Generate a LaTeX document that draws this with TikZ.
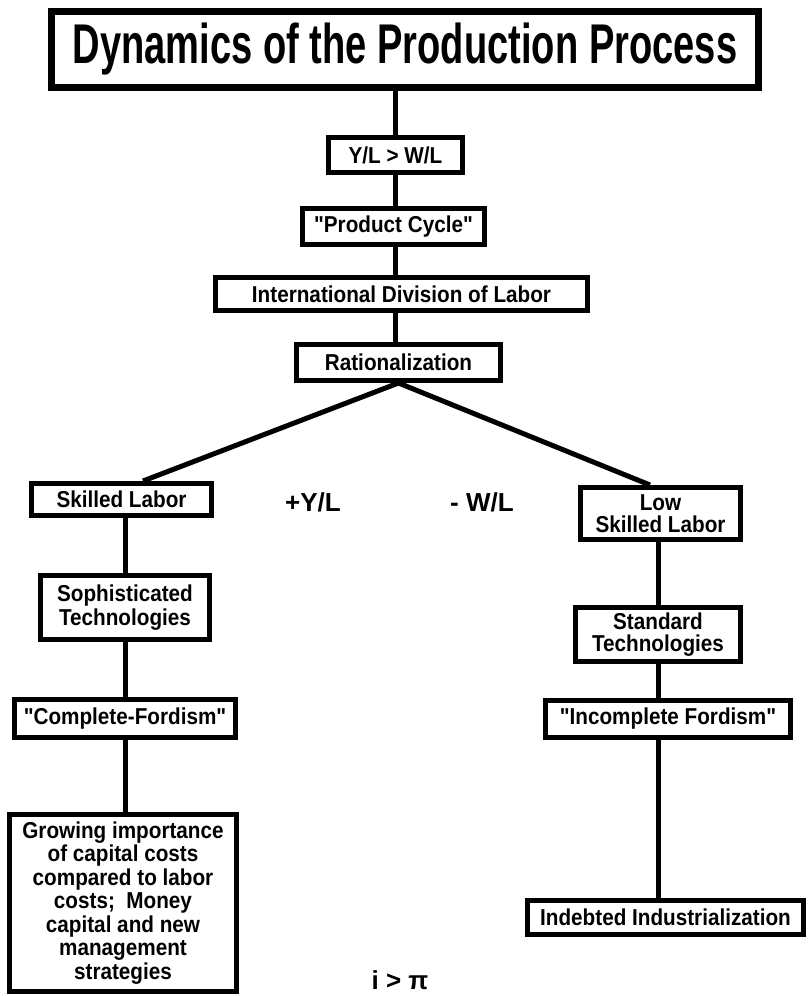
\documentclass[tikz,border=0pt]{standalone}
\usepackage{fontspec}
\setmainfont{Liberation Sans}[FakeStretch=0.9, Ligatures=TeXOff]
\newfontfamily\titlefont{Liberation Sans}[FakeStretch=0.68, Ligatures=TeXOff]
\newfontfamily\labelfont{Liberation Sans}[Ligatures=TeXOff]
\begin{document}
\begin{tikzpicture}[x=1pt,y=-1pt,
  box/.style={draw=black, line width=5pt, fill=white, inner sep=0pt,
    align=center, font=\fontsize{23}{22}\selectfont\bfseries},
  titlebox/.style={draw=black, line width=7pt, fill=white, inner sep=0pt,
    font=\titlefont\fontsize{56}{56}\selectfont\bfseries},
  lbl/.style={inner sep=0pt, font=\labelfont\fontsize{26}{26}\selectfont\bfseries},
  link/.style={draw=black, line width=5pt}]
\fill[white] (0,0) rectangle (808,996);
\useasboundingbox (0,0) rectangle (808,996);

% title
\node[titlebox, minimum width=707pt, minimum height=76pt] (title) at (405,49.5)
  {Dynamics of the Production Process};

% central chain
\node[box, minimum width=134pt, minimum height=35pt] (yl)  at (395.5,155)   {Y/L > W/L};
\node[box, minimum width=182pt, minimum height=36pt] (pc)  at (393.5,226.5) {"Product Cycle"};
\node[box, minimum width=372pt, minimum height=33pt] (idl) at (401.5,294)   {International Division of Labor};
\node[box, minimum width=204pt, minimum height=36pt] (rat) at (398.5,362.5) {Rationalization};

% left branch
\node[box, minimum width=180pt, minimum height=32pt]  (sk)   at (121.5,499.5) {Skilled Labor};
\node[box, minimum width=169pt, minimum height=64pt, font=\fontsize{23}{24}\selectfont\bfseries]
  (soph) at (125,607.5) {Sophisticated\\Technologies};
\node[box, minimum width=221pt, minimum height=38pt]  (cf)   at (125,718.5)   {"Complete-Fordism"};
\node[box, minimum width=227pt, minimum height=177pt, font=\fontsize{23}{23.5}\selectfont\bfseries]
  (grow) at (123,903)
  {Growing importance\\of capital costs\\compared to labor\\costs;\ \ Money\\capital and new\\management\\strategies};

% right branch
\node[box, minimum width=160pt, minimum height=52pt] (lsk) at (660.5,513.5) {Low\\Skilled Labor};
\node[box, minimum width=165pt, minimum height=54pt] (std) at (658,634.5)   {Standard\\Technologies};
\node[box, minimum width=245pt, minimum height=37pt] (inc) at (668,719)     {"Incomplete Fordism"};
\node[box, minimum width=276pt, minimum height=34pt] (ind) at (665.5,917.5) {Indebted Industrialization};

% free labels
\node[lbl] (plusyl)  at (313,502) {+Y/L};
\node[lbl] (minuswl) at (482,502) {- W/L};
\node[lbl] (ipi)     at (400,980) {i > π};

% connectors
\path[link] (yl.north) -- (yl.north |- title.south);
\path[link] (yl.south) -- (yl.south |- pc.north);
\path[link] (yl.south |- pc.south) -- (yl.south |- idl.north);
\path[link] (yl.south |- idl.south) -- (yl.south |- rat.north);
\path[link] (rat.south) -- ([xshift=21.5pt]sk.north);
\path[link] (rat.south) -- ([xshift=-10.5pt]lsk.north);
\path[link] (soph.north) -- (soph.north |- sk.south);
\path[link] (soph.south) -- (soph.south |- cf.north);
\path[link] (cf.south) -- (cf.south |- grow.north);
\path[link] (std.north) -- (std.north |- lsk.south);
\path[link] (std.south) -- (std.south |- inc.north);
\path[link] (std.south |- inc.south) -- (std.south |- ind.north);
\end{tikzpicture}
\end{document}
